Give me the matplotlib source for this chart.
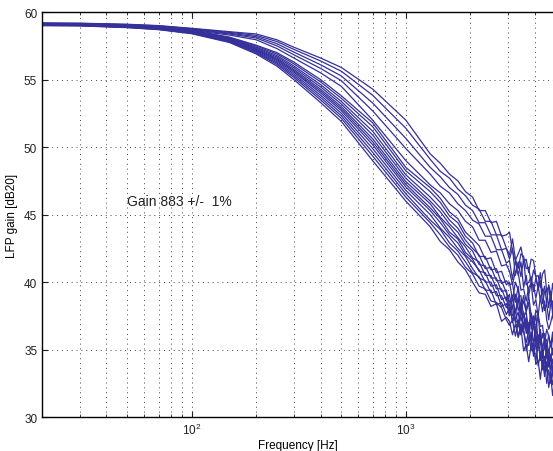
import matplotlib
matplotlib.use("Agg")
import matplotlib.pyplot as plt

plt.rcParams['font.family'] = ['Liberation Sans', 'DejaVu Sans']

# frequency points (Hz) where the curves were read
freqs = [20, 30, 50, 70, 100, 150, 200, 250, 300, 400, 500, 700, 1000,
         1300, 1450, 1600, 1750, 1900, 2050, 2200, 2350, 2500, 2650, 2800, 2950,
         3050, 3150, 3250, 3350, 3450, 3550, 3650, 3750, 3850, 3950,
         4050, 4150, 4250, 4350, 4450, 4550, 4650, 4750, 4850, 4950]

# main bundle of curves (dB)
b0 = [59.00, 58.98, 58.85, 58.70, 58.40, 57.75, 56.90, 56.00, 55.00, 53.30, 51.90, 49.00, 46.00,
      44.1, 43.0, 42.4, 41.5, 40.9, 40.0, 39.2, 39.1, 38.2, 38.4, 37.1, 37.4,
      37.1, 36.1, 36.9, 35.9, 36.6, 34.9, 35.4, 34.1, 35.3, 35.5,
      33.9, 34.2, 32.8, 34.2, 33.0, 34.1, 32.2, 33.1, 31.6, 32.6]
b1 = [59.01, 58.99, 58.87, 58.72, 58.43, 57.80, 56.98, 56.12, 55.16, 53.50, 52.13, 49.34, 46.30,
      44.4, 43.5, 42.6, 42.0, 41.1, 40.6, 39.7, 39.5, 38.6, 38.5, 38.1, 37.2,
      36.8, 37.2, 36.0, 37.0, 36.1, 36.6, 34.9, 35.7, 35.8, 34.5,
      35.6, 33.8, 34.6, 33.8, 34.5, 32.5, 33.5, 32.5, 33.8, 31.9]
b2 = [59.03, 59.01, 58.88, 58.74, 58.46, 57.84, 57.04, 56.22, 55.29, 53.67, 52.32, 49.62, 46.55,
      44.6, 43.9, 42.9, 42.3, 41.5, 40.7, 40.4, 39.4, 39.4, 38.3, 38.5, 37.6,
      38.1, 37.2, 37.2, 36.0, 36.9, 36.3, 35.5, 36.5, 34.9, 35.5,
      34.1, 35.4, 34.8, 33.5, 34.5, 33.4, 34.6, 33.1, 32.4, 33.6]
b3 = [59.04, 59.02, 58.90, 58.76, 58.48, 57.88, 57.11, 56.32, 55.42, 53.84, 52.51, 49.90, 46.80,
      45.0, 44.0, 43.3, 42.5, 41.9, 41.0, 40.3, 40.1, 39.2, 39.3, 38.2, 38.4,
      37.6, 38.2, 37.0, 37.2, 36.1, 37.0, 36.9, 35.6, 35.7, 34.8,
      35.7, 35.9, 34.3, 34.7, 33.4, 34.8, 33.7, 34.5, 33.1, 32.4]
b4 = [59.05, 59.03, 58.91, 58.78, 58.51, 57.92, 57.17, 56.42, 55.55, 54.01, 52.70, 50.18, 47.05,
      45.3, 44.4, 43.5, 42.9, 42.0, 41.5, 40.9, 40.0, 40.0, 39.0, 39.0, 38.1,
      38.4, 37.0, 38.0, 36.7, 38.1, 36.5, 37.2, 35.3, 36.3, 35.5,
      36.5, 35.8, 34.2, 35.0, 34.0, 35.2, 34.0, 34.6, 33.3, 33.9]
b5 = [59.06, 59.04, 58.93, 58.79, 58.53, 57.95, 57.23, 56.50, 55.65, 54.15, 52.85, 50.40, 47.25,
      45.5, 44.7, 43.7, 43.2, 42.2, 41.7, 40.8, 40.7, 39.7, 39.8, 38.7, 38.9,
      37.5, 39.0, 37.2, 37.8, 36.3, 37.8, 36.6, 36.9, 35.7, 37.0,
      35.3, 36.1, 35.6, 34.3, 35.5, 34.5, 34.9, 33.5, 34.2, 33.4]
b6 = [59.07, 59.05, 58.94, 58.80, 58.55, 57.98, 57.28, 56.58, 55.75, 54.29, 53.00, 50.62, 47.45,
      45.8, 44.8, 44.1, 43.3, 42.6, 41.8, 41.5, 40.5, 40.5, 39.5, 39.5, 38.6,
      39.1, 37.5, 37.7, 38.8, 37.1, 37.7, 36.2, 37.0, 37.2, 35.4,
      36.2, 35.1, 36.3, 34.8, 35.1, 35.2, 33.8, 34.6, 34.1, 34.6]
b7 = [59.08, 59.06, 58.95, 58.82, 58.57, 58.02, 57.34, 56.68, 55.88, 54.46, 53.19, 50.90, 47.70,
      46.0, 45.2, 44.3, 43.7, 42.8, 42.3, 41.3, 41.2, 40.3, 40.3, 39.3, 39.4,
      37.9, 38.2, 39.1, 37.9, 38.5, 36.6, 37.4, 36.5, 37.7, 37.0,
      35.5, 35.9, 35.4, 36.2, 35.8, 34.4, 35.0, 34.4, 35.1, 34.1]
b8 = [59.09, 59.07, 58.97, 58.84, 58.60, 58.06, 57.41, 56.78, 56.01, 54.63, 53.38, 51.18, 47.95,
      46.3, 45.5, 44.6, 44.0, 43.1, 42.5, 42.0, 41.0, 41.1, 40.1, 40.1, 39.2,
      38.5, 39.0, 37.7, 38.9, 39.0, 37.4, 37.8, 36.3, 37.7, 36.6,
      37.6, 35.6, 36.5, 35.0, 35.9, 35.7, 34.7, 35.6, 34.6, 35.4]
b9 = [59.11, 59.09, 58.99, 58.86, 58.63, 58.11, 57.49, 56.90, 56.17, 54.83, 53.61, 51.52, 48.25,
      46.7, 45.9, 44.9, 44.4, 43.4, 42.9, 41.9, 41.9, 40.9, 41.0, 39.9, 40.1,
      39.8, 39.9, 38.5, 39.7, 37.9, 38.6, 37.8, 38.5, 36.5, 37.5,
      36.4, 37.6, 35.7, 35.9, 36.2, 35.1, 36.1, 35.3, 35.9, 34.2]
b10 = [59.12, 59.10, 59.00, 58.88, 58.65, 58.15, 57.55, 57.00, 56.30, 55.00, 53.80, 51.80, 48.50,
       47.0, 46.2, 45.2, 44.7, 43.7, 43.2, 42.7, 41.7, 41.8, 40.7, 40.8, 39.8,
       40.0, 38.7, 40.0, 39.4, 38.0, 39.0, 37.9, 39.0, 37.5, 36.8,
       37.9, 37.6, 36.7, 36.8, 35.5, 36.5, 36.0, 35.2, 36.3, 34.7]

# upper group of curves (dB)
u0 = [59.12, 59.10, 59.00, 58.90, 58.65, 58.30, 57.95, 57.30, 56.60, 55.50, 54.50, 52.00, 49.00,
      47.2, 46.6, 45.8, 45.3, 44.5, 44.1, 43.1, 43.1, 42.2, 42.3, 41.2, 41.3,
      40.8, 39.8, 40.8, 40.7, 39.4, 39.5, 38.6, 39.6, 39.9, 38.3,
      38.7, 37.5, 38.9, 37.8, 38.6, 37.2, 36.5, 37.0, 37.6, 36.6]
u1 = [59.14, 59.12, 59.03, 58.93, 58.70, 58.38, 58.08, 57.50, 56.84, 55.83, 54.92, 52.69, 49.90,
      48.0, 47.1, 46.6, 45.8, 45.3, 44.6, 44.3, 43.4, 43.4, 42.4, 42.4, 41.4,
      41.6, 40.2, 41.6, 40.5, 41.5, 39.6, 40.5, 39.0, 40.0, 39.8,
      38.8, 39.7, 38.7, 39.5, 37.9, 38.4, 37.2, 38.4, 38.6, 37.2]
u2 = [59.16, 59.14, 59.06, 58.96, 58.73, 58.44, 58.18, 57.66, 57.04, 56.10, 55.27, 53.27, 50.65,
      48.5, 47.8, 47.0, 46.5, 45.7, 45.3, 44.4, 44.4, 43.5, 43.5, 42.4, 42.5,
      41.7, 42.5, 40.5, 41.5, 40.4, 41.7, 39.8, 40.0, 40.4, 39.3,
      40.3, 39.5, 40.1, 38.4, 39.3, 39.4, 38.1, 39.3, 37.6, 38.5]
u3 = [59.18, 59.16, 59.08, 58.98, 58.77, 58.50, 58.28, 57.82, 57.24, 56.38, 55.62, 53.84, 51.40,
      49.1, 48.2, 47.7, 46.9, 46.4, 45.7, 45.4, 44.5, 44.5, 43.5, 43.5, 42.5,
      42.0, 43.2, 41.7, 41.0, 42.1, 41.9, 41.0, 41.1, 39.9, 40.9,
      40.4, 39.6, 40.7, 39.1, 39.7, 38.4, 39.8, 39.2, 37.9, 39.1]
u4 = [59.20, 59.18, 59.10, 59.00, 58.80, 58.55, 58.38, 57.95, 57.40, 56.60, 55.90, 54.30, 52.00,
      49.5, 48.8, 48.0, 47.5, 46.7, 46.3, 45.3, 45.3, 44.4, 44.5, 43.4, 43.5,
      43.7, 42.3, 41.6, 42.1, 42.6, 41.5, 41.7, 40.7, 41.7, 41.6,
      40.4, 40.5, 39.6, 40.6, 40.9, 39.3, 39.7, 38.5, 39.9, 38.9]

curves = [b0, b1, b2, b3, b4, b5, b6, b7, b8, b9, b10, u0, u1, u2, u3, u4]

fig = plt.figure(figsize=(5.53, 4.52), dpi=100)
ax = fig.add_axes([0.076, 0.075, 0.924, 0.896])

for c in curves:
    ax.plot(freqs, c, color='#35309a', lw=0.9)

ax.set_xscale('log')
ax.set_xlim(20, 4870)
ax.set_ylim(30, 60)
ax.set_yticks([30, 35, 40, 45, 50, 55, 60])

grid_style = dict(linestyle=(0, (1, 4)), color='#444444', lw=0.7)
ax.grid(True, which='major', axis='both', **grid_style)
ax.grid(True, which='minor', axis='x', **grid_style)
ax.tick_params(which='both', direction='in', top=True, labelsize=8.5, colors='#222222')
ax.tick_params(which='major', length=4)
ax.tick_params(which='minor', length=2)
ax.tick_params(axis='x', which='minor', labelbottom=False)
ax.spines['right'].set_visible(False)
for s in ['left', 'bottom', 'top']:
    ax.spines[s].set_linewidth(1.0)

ax.set_xlabel('Frequency [Hz]', fontsize=8.5, labelpad=1)
ax.set_ylabel('LFP gain [dB20]', fontsize=8.5, labelpad=4)

ax.text(50, 46, 'Gain 883 +/-  1%', fontsize=10, va='center', ha='left', color='#222222')

fig.savefig('out.png', dpi=100)
